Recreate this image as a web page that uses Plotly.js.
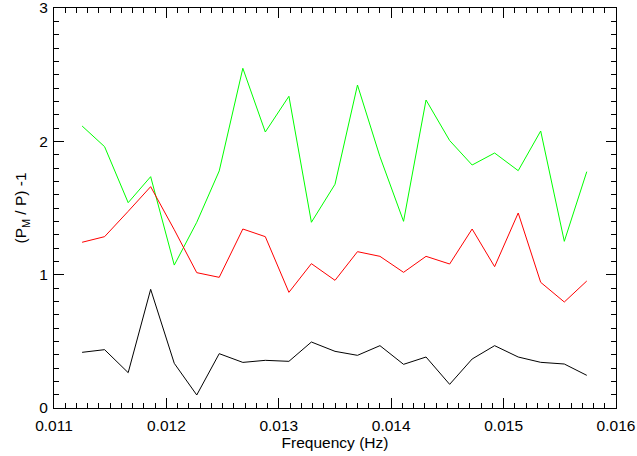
<!DOCTYPE html>
<html>
<head>
<meta charset="utf-8">
<script src="https://cdn.plot.ly/plotly-3.0.1.min.js"></script>
<style>html,body{margin:0;padding:0;background:#fff;}#plot{width:637px;height:456px;}</style>
</head>
<body>
<div id="plot"></div>
<script>
const freq = [0.01125, 0.01145, 0.01166, 0.01186, 0.01207, 0.01227, 0.01247, 0.01268,
  0.01288, 0.01309, 0.01329, 0.01350, 0.01370, 0.01390, 0.01411, 0.01431,
  0.01452, 0.01472, 0.01492, 0.01513, 0.01533, 0.01554, 0.01574];
const greenVals = [2.115, 1.96, 1.54, 1.735, 1.072, 1.393, 1.778, 2.548, 2.07, 2.338, 1.393,
  1.678, 2.4225, 1.885, 1.40, 2.31, 2.006, 1.8225, 1.9125, 1.78, 2.0775, 1.25, 1.7725];
const redVals = [1.243, 1.285, 1.475, 1.66, 1.337, 1.015, 0.98, 1.3425, 1.285, 0.8675, 1.0825,
  0.9575, 1.1725, 1.1375, 1.0175, 1.1375, 1.08, 1.3425, 1.06, 1.4625, 0.9425, 0.795, 0.9525];
const blackVals = [0.4175, 0.4375, 0.265, 0.89, 0.335, 0.0975, 0.4075, 0.342, 0.3575, 0.35, 0.495,
  0.425, 0.395, 0.4675, 0.3275, 0.3825, 0.1775, 0.3675, 0.4675, 0.3825, 0.3425, 0.33, 0.245];
const xTicks = [0.011, 0.012, 0.013, 0.014, 0.015, 0.016];
const xTickText = ['0.011', '0.012', '0.013', '0.014', '0.015', '0.016'];
const yTicks = [0, 1, 2, 3];
const yTickText = ['0', '1', '2', '3'];

const mk = (y, c) => ({x: freq, y: y, type: 'scatter', mode: 'lines',
  line: {color: c, width: 1}, hoverinfo: 'skip', showlegend: false});

const font = {family: 'Liberation Sans, Arial, sans-serif', size: 15.5, color: '#000'};
const axisCommon = {
  showgrid: false, zeroline: false, showline: true, linecolor: '#000', linewidth: 1,
  mirror: 'ticks', ticks: 'inside', ticklen: 10, tickwidth: 1, tickcolor: '#000',
  tickfont: font, ticklabeloverflow: 'allow'
};

const layout = {
  width: 637, height: 456,
  margin: {l: 53.5, r: 20.5, t: 8, b: 48},
  paper_bgcolor: '#fff', plot_bgcolor: '#fff',
  font: font,
  xaxis: Object.assign({}, axisCommon, {
    range: [0.011, 0.016], tickmode: 'array', tickvals: xTicks, ticktext: xTickText,
    ticklabelstandoff: 3,
    minor: {tickmode: 'linear', tick0: 0.011, dtick: 0.0001, ticks: 'inside', ticklen: 5, tickcolor: '#000', tickwidth: 1},
    title: {text: 'Frequency (Hz)', font: font, standoff: 2}
  }),
  yaxis: Object.assign({}, axisCommon, {
    range: [0, 3], tickmode: 'array', tickvals: yTicks, ticktext: yTickText,
    ticklabelstandoff: 2,
    minor: {tickmode: 'linear', tick0: 0, dtick: 0.1, ticks: 'inside', ticklen: 5, tickcolor: '#000', tickwidth: 1},
    title: {text: '(P<sub>M</sub> / P) -1', font: font, standoff: 8}
  })
};

Plotly.newPlot('plot', [mk(greenVals, '#00ff00'), mk(redVals, '#ff0000'), mk(blackVals, '#000000')],
  layout, {displayModeBar: false, staticPlot: true});
</script>
</body>
</html>
